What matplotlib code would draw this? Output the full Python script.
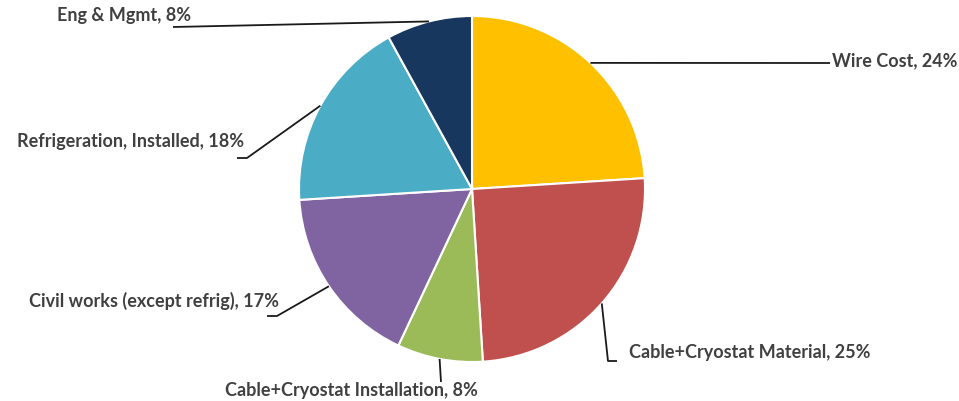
# -*- coding:utf-8 -*-
import numpy as np
import matplotlib
matplotlib.use('Agg')
import matplotlib.pyplot as plt

labels = ['Wire Cost', 'Cable+Cryostat Material', 'Cable+Cryostat Installation',
          'Civil works (except refrig)', 'Refrigeration, Installed', 'Eng & Mgmt']
shares = [24, 25, 8, 17, 18, 8]
colors = ['#FFC000', '#C0504D', '#9BBB59', '#8064A2', '#4BACC6', '#17375E']

W, H = 959, 402
cx, cy, r = 472, 190, 173

# label text position (px from top-left), alignment, elbow points (px) after the wedge edge
layout = [
    ((832, 61), 'left', [(830, 64)]),
    ((629, 353), 'left', [(608, 362), (617, 362)]),
    ((351, 391), 'center', [(441, 383)]),
    ((279, 301), 'right', [(277, 317), (267, 317)]),
    ((244, 141), 'right', [(247, 159), (237, 159)]),
    ((191, 16), 'right', [(173, 28)]),
]

fig = plt.figure(figsize=(W / 100, H / 100), dpi=100)
ax = fig.add_axes([0, 0, 1, 1])
wedges, _ = ax.pie(shares, colors=colors, startangle=90, counterclock=False,
                   center=(cx, H - cy), radius=r, frame=True,
                   wedgeprops=dict(edgecolor='white', linewidth=1.5))
ax.set_xlim(0, W)
ax.set_ylim(0, H)
ax.set_aspect('equal')
ax.axis('off')

for w, lab, s, (tpos, ha, elbow) in zip(wedges, labels, shares, layout):
    mid = np.deg2rad((w.theta1 + w.theta2) / 2)
    ex = cx + r * np.cos(mid)
    ey = (H - cy) + r * np.sin(mid)
    xs = [ex] + [p[0] for p in elbow]
    ys = [ey] + [H - p[1] for p in elbow]
    ax.plot(xs, ys, color='#1a1a1a', lw=1.3, solid_capstyle='butt')
    ax.text(tpos[0], H - tpos[1], f'{lab}, {s}%', ha=ha, va='center',
            fontsize=13, fontweight='bold', family='Lato', color='#404040')

fig.savefig('out.png', dpi=100)
